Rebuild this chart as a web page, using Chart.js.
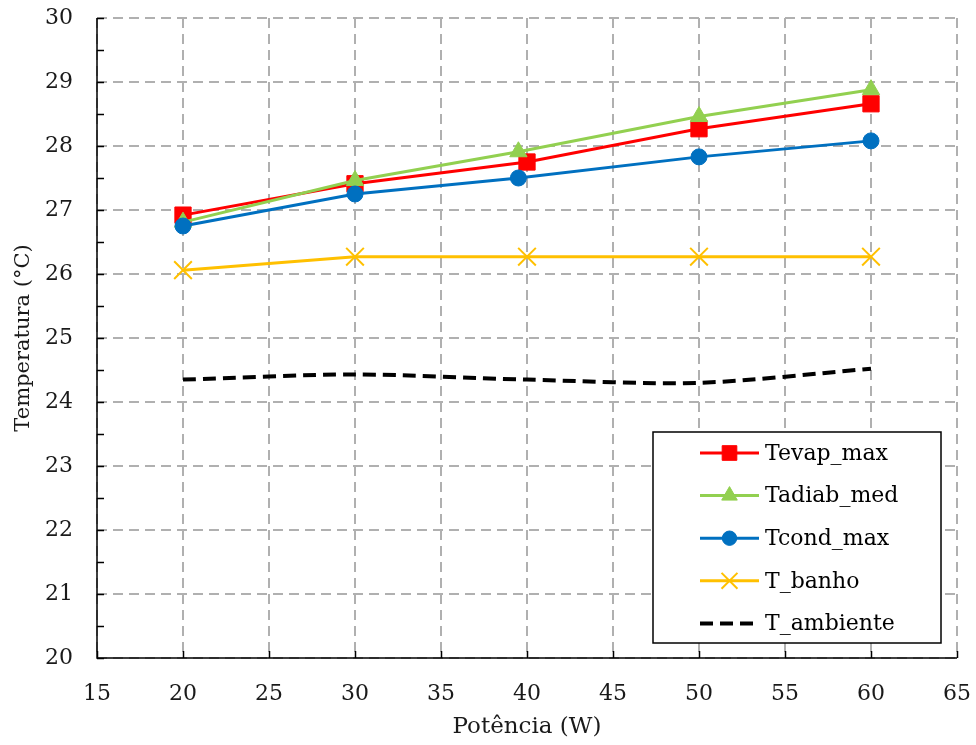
<!DOCTYPE html>
<html>
<head>
<meta charset="utf-8">
<script src="https://cdn.jsdelivr.net/npm/chart.js@4.4.0/dist/chart.umd.min.js"></script>
<style>
  html, body { margin: 0; padding: 0; background: #fff; }
  #chart { display: block; }
</style>
</head>
<body>
<canvas id="chart" width="976" height="745"></canvas>
<script>
// Potência (W) for each series; two series were logged at 39.5 W instead of 40 W
const power = [20, 30, 40, 50, 60];
const powerAdiab = [20, 30, 39.5, 50, 60];
const powerCond = [20, 30, 39.5, 50, 60];

// Temperatures (°C)
const tevapMax = [26.92, 27.41, 27.75, 28.27, 28.66];
const tadiabMed = [26.81, 27.46, 27.91, 28.46, 28.88];
const tcondMax = [26.75, 27.25, 27.5, 27.83, 28.08];
const tBanho = [26.06, 26.27, 26.27, 26.27, 26.27];
const tAmbiente = [24.35, 24.43, 24.35, 24.30, 24.52];

const xTicks = [15, 20, 25, 30, 35, 40, 45, 50, 55, 60, 65];
const yTicks = [20, 21, 22, 23, 24, 25, 26, 27, 28, 29, 30];

const FONT = 'DejaVu Serif';
const toPoints = (xs, ys) => xs.map((x, i) => ({ x, y: ys[i] }));

// axis lines with inward tick marks, plus the boxed legend inside the plot
const frame = {
  id: 'frame',
  afterDraw(chart) {
    const { ctx, chartArea: a, scales: { x, y } } = chart;
    ctx.save();
    ctx.strokeStyle = '#000';
    ctx.lineWidth = 1.5;
    ctx.beginPath();
    ctx.moveTo(a.left, a.top);
    ctx.lineTo(a.left, a.bottom);
    ctx.lineTo(a.right, a.bottom);
    xTicks.forEach(v => {
      const px = Math.round(x.getPixelForValue(v)) + 0.5;
      ctx.moveTo(px, a.bottom);
      ctx.lineTo(px, a.bottom - 7);
    });
    for (let v = yTicks[0]; v <= yTicks[yTicks.length - 1]; v += 0.5) {
      const py = Math.round(y.getPixelForValue(v)) + 0.5;
      ctx.moveTo(a.left, py);
      ctx.lineTo(a.left + 7, py);
    }
    ctx.stroke();

    // legend
    const bx = 653, by = 432, bw = 288, bh = 211;
    ctx.fillStyle = '#fff';
    ctx.fillRect(bx, by, bw, bh);
    ctx.lineWidth = 1.5;
    ctx.strokeStyle = '#000';
    ctx.strokeRect(bx, by, bw, bh);
    ctx.font = '22px "' + FONT + '"';
    ctx.textBaseline = 'middle';
    chart.data.datasets.forEach((ds, i) => {
      const cy = 453 + i * 42.6;
      ctx.save();
      ctx.strokeStyle = ds.borderColor;
      ctx.lineWidth = ds.borderWidth;
      ctx.setLineDash(ds.borderDash || []);
      ctx.beginPath();
      ctx.moveTo(700, cy);
      ctx.lineTo(759, cy);
      ctx.stroke();
      ctx.restore();
      if (ds.pointRadius > 0) {
        ctx.save();
        ctx.fillStyle = ds.pointBackgroundColor;
        ctx.strokeStyle = ds.pointBorderColor;
        ctx.lineWidth = ds.pointBorderWidth;
        Chart.helpers.drawPoint(ctx, {
          pointStyle: ds.pointStyle, radius: ds.pointRadius * 0.9,
          rotation: 0, borderWidth: ds.pointBorderWidth
        }, 729.5, cy);
        ctx.restore();
      }
      ctx.fillStyle = '#000';
      ctx.fillText(ds.label, 765, cy + 1);
    });
    ctx.restore();
  }
};

const series = (label, xs, ys, color, style, radius, order, extra) => Object.assign({
  label, data: toPoints(xs, ys), order,
  borderColor: color, backgroundColor: color, borderWidth: 3,
  pointStyle: style, pointRadius: radius,
  pointBackgroundColor: color, pointBorderColor: color, pointBorderWidth: 1
}, extra || {});

new Chart(document.getElementById('chart'), {
  type: 'line',
  data: {
    datasets: [
      series('Tevap_max', power, tevapMax, '#ff0000', 'rect', 11.5, 5),
      series('Tadiab_med', powerAdiab, tadiabMed, '#92d050', 'triangle', 10, 4),
      series('Tcond_max', powerCond, tcondMax, '#0070c0', 'circle', 8, 3),
      series('T_banho', power, tBanho, '#ffc000', 'crossRot', 12.5, 2, { pointBorderWidth: 2 }),
      series('T_ambiente', power, tAmbiente, '#000000', false, 0, 1,
        { borderDash: [13, 7], borderWidth: 4, tension: 0.3 })
    ]
  },
  options: {
    responsive: false,
    devicePixelRatio: 1,
    animation: false,
    layout: { padding: { top: 18, right: 19, left: 0, bottom: 0 } },
    plugins: { legend: { display: false }, tooltip: { enabled: false } },
    scales: {
      x: {
        type: 'linear', min: 15, max: 65,
        afterBuildTicks: s => { s.ticks = xTicks.map(v => ({ value: v })); },
        afterFit: s => { s.height = 87; s.paddingLeft = 0; s.paddingRight = 0; },
        grid: { color: '#b0b0b0', lineWidth: 2, drawTicks: false },
        border: { display: false, dash: [10, 6] },
        ticks: { padding: 23, color: '#1a1a1a', font: { family: FONT, size: 22 }, maxRotation: 0 },
        title: { display: true, text: 'Potência (W)', color: '#1a1a1a', padding: { bottom: 4 },
          font: { family: FONT, size: 23 } }
      },
      y: {
        type: 'linear', min: 20, max: 30,
        afterBuildTicks: s => { s.ticks = yTicks.map(v => ({ value: v })); },
        afterFit: s => { s.width = 97; s.paddingTop = 0; s.paddingBottom = 0; },
        grid: { color: '#b0b0b0', lineWidth: 2, drawTicks: false },
        border: { display: false, dash: [10, 6] },
        ticks: { padding: 24, color: '#1a1a1a', font: { family: FONT, size: 22 } },
        title: { display: true, text: 'Temperatura (°C)', color: '#1a1a1a', padding: { top: 11 },
          font: { family: FONT, size: 21 } }
      }
    }
  },
  plugins: [frame]
});
</script>
</body>
</html>
